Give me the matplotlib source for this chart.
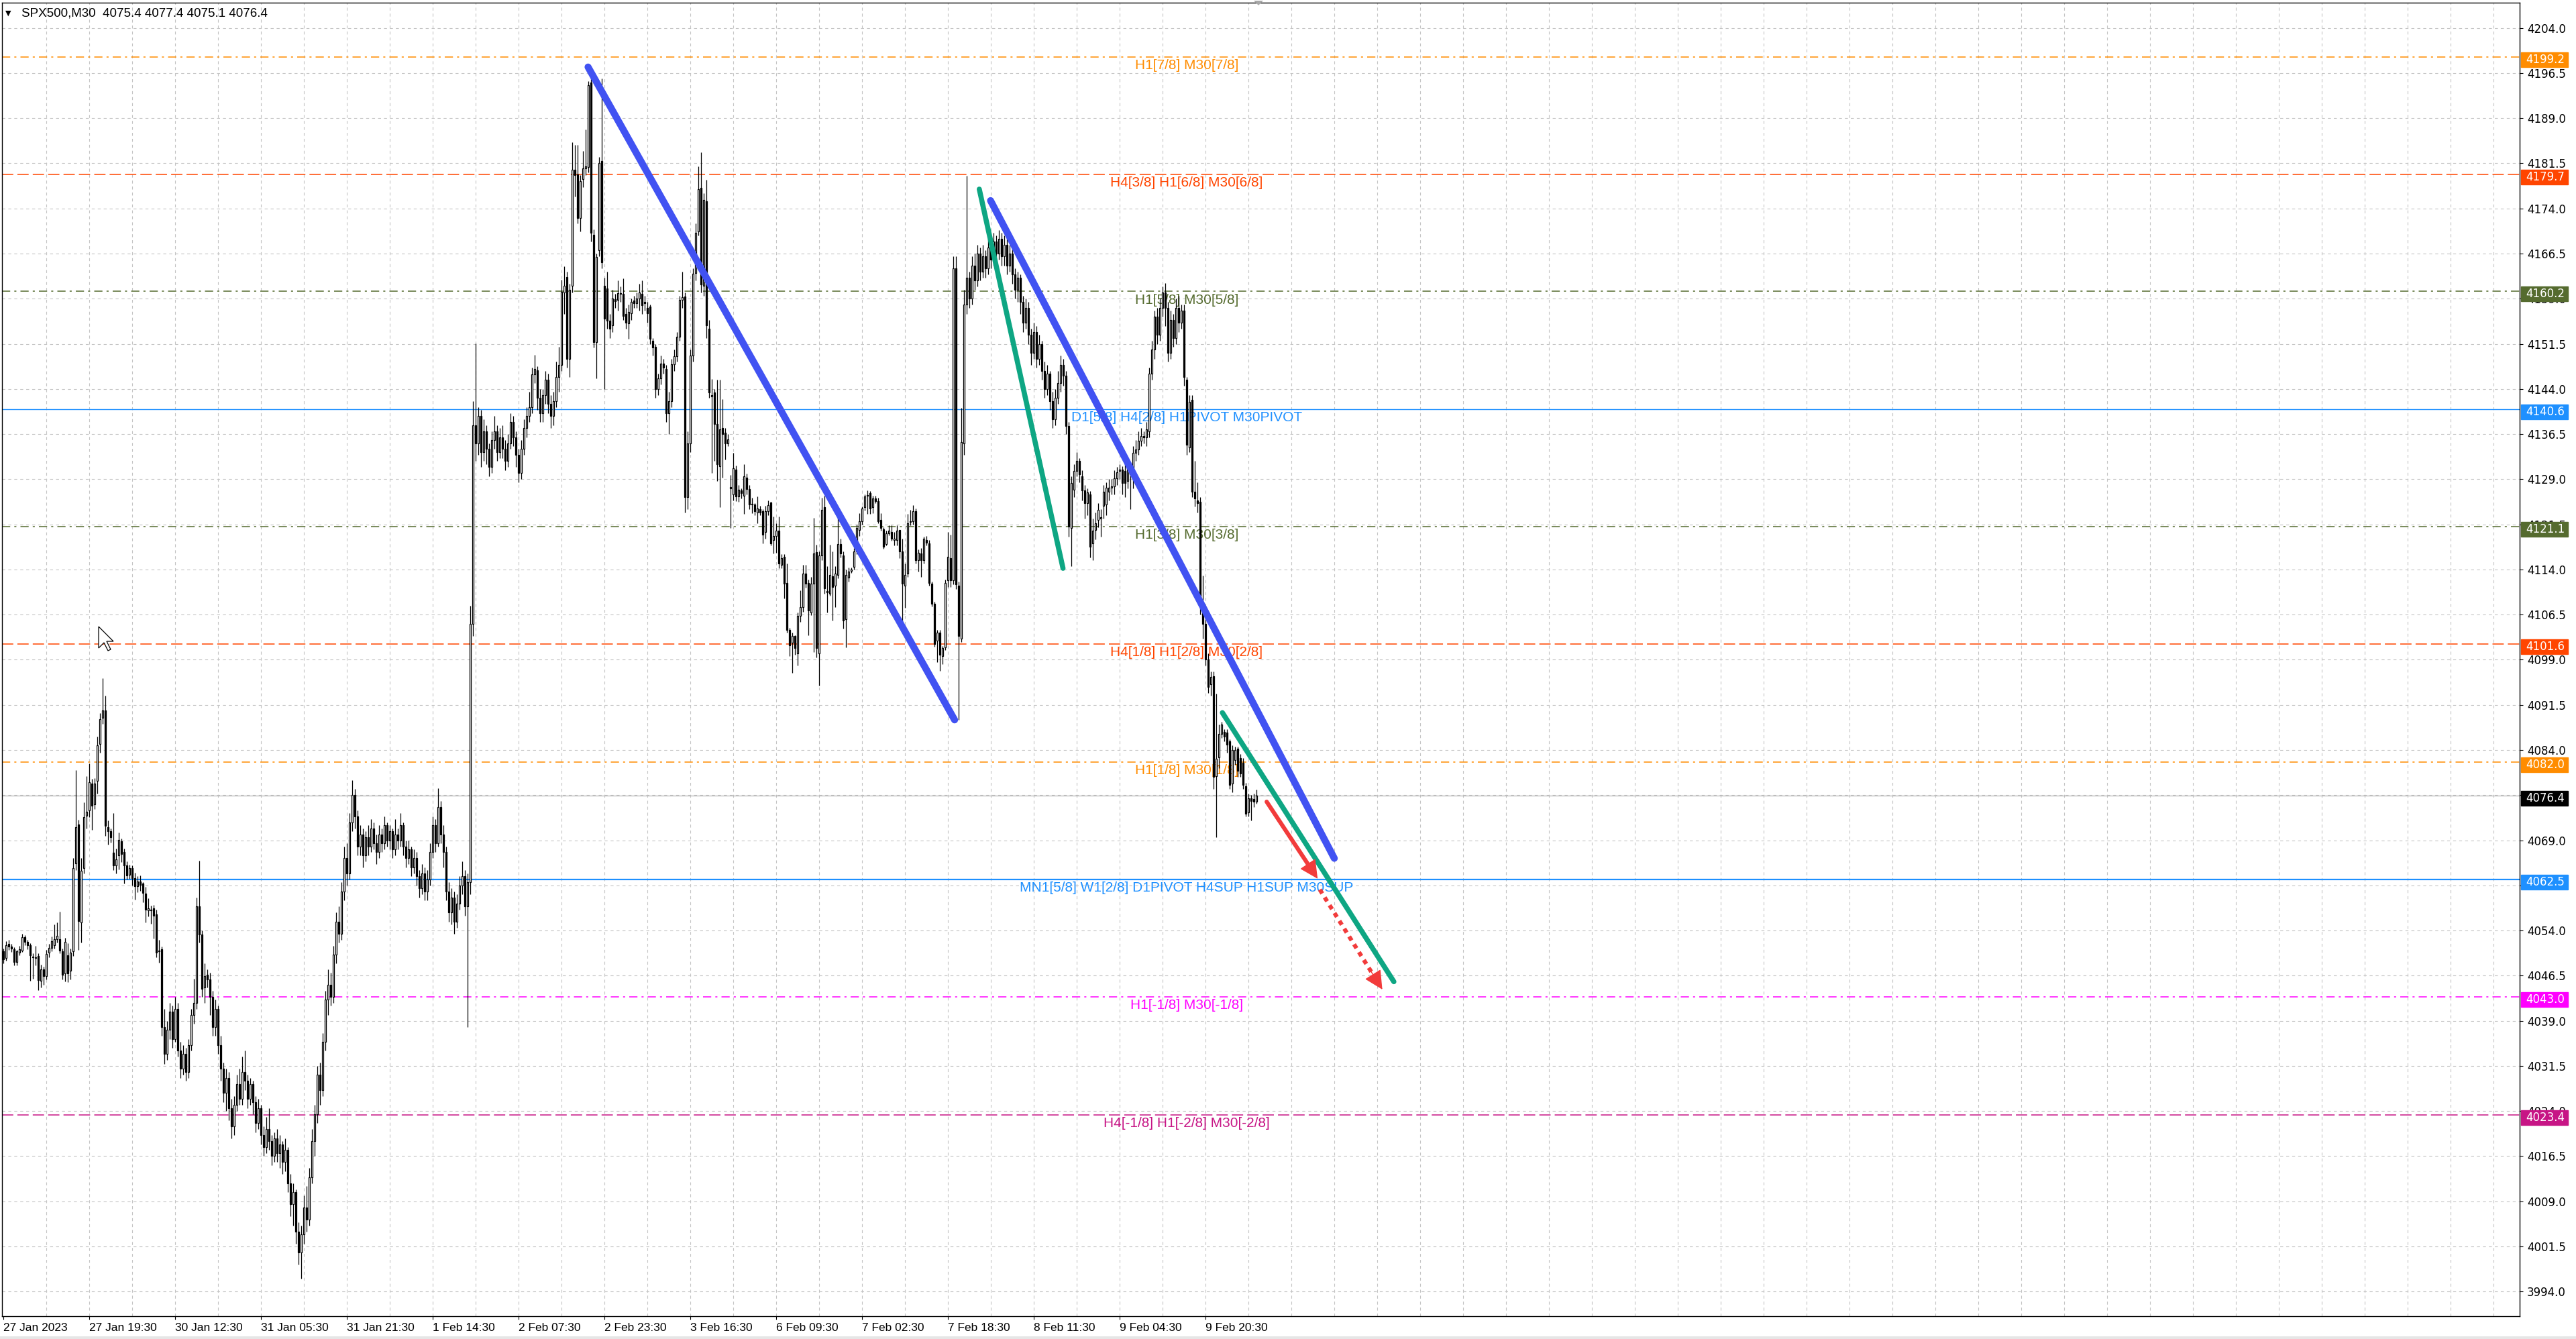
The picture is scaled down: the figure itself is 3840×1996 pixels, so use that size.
import numpy as np
import matplotlib.pyplot as plt
from matplotlib.patches import Rectangle, Polygon
from matplotlib.transforms import IdentityTransform

plt.rcParams['font.family'] = ['Liberation Sans', 'DejaVu Sans']

# SPX500 M30 bars, 27 Jan 2023 .. 9 Feb 2023
opens = [
    4050.5, 4049.4, 4051.8, 4051.3, 4050.9, 4048.8, 4050.3, 4050.7, 4052.9, 4052.1,
    4051.6, 4049.7, 4049.5, 4049.8, 4045.6, 4047.5, 4046.4, 4050.3, 4051.1, 4051.6,
    4052.6, 4052.6, 4050.5, 4046.9, 4049.9, 4047.3, 4050.5, 4065.2, 4071.6, 4055.4,
    4064.4, 4073.1, 4074.0, 4078.4, 4075.0, 4078.9, 4085.0, 4089.3, 4090.6, 4071.2,
    4070.5, 4066.9, 4064.8, 4066.5, 4068.8, 4067.1, 4064.8, 4063.3, 4064.4, 4062.7,
    4061.4, 4062.2, 4061.8, 4060.1, 4057.3, 4057.4, 4057.7, 4056.7, 4050.6, 4050.9,
    4038.0, 4033.5, 4037.5, 4040.5, 4036.0, 4041.0, 4034.0, 4031.0, 4033.5, 4030.5,
    4035.0, 4040.0, 4042.0, 4058.0, 4053.3, 4044.5, 4046.6, 4045.9, 4043.0, 4038.0,
    4041.0, 4035.0, 4031.0, 4027.0, 4029.5, 4024.5, 4021.5, 4025.0, 4028.5, 4026.0,
    4030.5, 4029.0, 4026.0, 4028.5, 4025.5, 4022.0, 4024.5, 4020.0, 4018.0, 4021.0,
    4019.0, 4016.5, 4019.5, 4017.0, 4018.5, 4015.5, 4017.5, 4012.0, 4008.5, 4010.5,
    4004.0, 4000.5, 4003.5, 4008.0, 4006.0, 4013.0, 4019.0, 4023.5, 4030.0, 4027.5,
    4035.5, 4042.5, 4045.0, 4043.0, 4050.0, 4055.5, 4053.5, 4060.5, 4066.0, 4063.5,
    4072.0, 4076.5, 4073.0, 4068.0, 4070.0, 4066.5, 4069.5, 4068.0, 4071.0, 4068.5,
    4067.0, 4070.0, 4068.5, 4071.5, 4069.0, 4070.5, 4067.5, 4070.0, 4069.0, 4071.5,
    4068.0, 4066.0, 4067.5, 4064.5, 4066.0, 4063.0, 4061.0, 4063.5, 4060.5, 4062.5,
    4067.0, 4071.5, 4068.5, 4074.5, 4070.0, 4067.0, 4060.5, 4057.0, 4059.5, 4055.5,
    4058.5, 4061.5, 4063.0, 4058.0, 4062.0, 4105.0, 4138.0, 4135.0, 4139.5, 4133.5,
    4137.0, 4134.0, 4131.0, 4135.5, 4137.0, 4133.5, 4136.0, 4134.0, 4132.0, 4135.0,
    4138.5, 4136.0, 4133.0, 4130.0, 4134.0, 4137.5, 4139.5, 4141.0, 4146.4, 4147.1,
    4142.5, 4140.0, 4143.0, 4145.5, 4141.5, 4139.5, 4142.0, 4146.0, 4148.0, 4160.0,
    4162.6, 4149.0, 4161.1, 4180.4, 4179.6, 4172.4, 4178.9, 4180.7, 4180.9, 4194.9,
    4169.6, 4151.8, 4167.0, 4181.9, 4161.1, 4160.7, 4155.3, 4154.6, 4158.9, 4158.8,
    4159.8, 4159.8, 4156.5, 4154.9, 4156.6, 4158.7, 4158.3, 4159.0, 4159.8, 4158.5,
    4157.5, 4157.7, 4152.0, 4151.0, 4144.0, 4145.8, 4148.2, 4147.3, 4140.0, 4142.0,
    4148.1, 4149.4, 4152.7, 4158.8, 4159.4, 4126.0, 4135.0, 4149.5, 4163.3, 4170.2,
    4177.4, 4161.1, 4175.2,
    4154.0, 4142.7, 4143.4, 4138.2, 4131.2, 4137.5, 4136.7, 4135.0, 4127.7, 4126.5,
    4130.6, 4126.1, 4127.1, 4126.3, 4129.3, 4127.4, 4124.8, 4124.8, 4123.5, 4124.0,
    4123.7, 4120.2, 4123.7, 4125.1, 4118.9, 4119.6, 4120.4, 4114.8, 4116.1, 4111.8,
    4104.0, 4101.8, 4102.9, 4100.1, 4106.3, 4107.7, 4113.3, 4111.8, 4106.8, 4111.6,
    4116.9, 4100.1, 4116.3, 4124.3, 4110.4, 4110.0, 4112.9, 4111.3, 4113.1, 4118.2,
    4116.3, 4105.7, 4112.6, 4113.8, 4114.4, 4117.0, 4120.6, 4122.0, 4124.3, 4126.3,
    4126.7, 4124.3, 4125.8, 4125.4, 4122.2, 4120.7, 4118.2, 4120.0, 4120.2, 4118.9,
    4118.9, 4120.6, 4117.0, 4111.3, 4113.3, 4121.9, 4122.0, 4123.7, 4115.5, 4116.7,
    4115.5, 4118.9, 4118.3, 4111.6, 4108.3, 4102.2, 4103.5, 4099.6, 4101.1, 4112.2,
    4115.9, 4112.2, 4164.0, 4111.3, 4102.5, 4134.9,
    4158.0, 4162.5,
    4159.0, 4164.5, 4162.0, 4166.5, 4163.5, 4166.0, 4164.0, 4167.5, 4165.5, 4168.5,
    4166.5, 4169.0, 4166.0, 4168.0, 4164.5, 4166.5, 4163.0, 4160.5, 4162.5, 4158.5,
    4155.0, 4157.5, 4153.0, 4150.0, 4153.5, 4149.0, 4151.5, 4147.0, 4144.0, 4146.5,
    4142.0, 4139.0, 4142.5, 4145.0, 4148.0, 4146.2, 4137.8, 4120.9, 4127.2, 4130.4,
    4132.0, 4129.5, 4127.1, 4125.0, 4126.5, 4118.3, 4120.6, 4122.2, 4122.5, 4124.6,
    4124.8, 4126.9, 4127.6, 4127.8, 4129.1, 4130.4, 4130.6, 4130.4, 4128.7, 4131.0,
    4129.8, 4133.4, 4133.9, 4135.4, 4136.2, 4136.0, 4136.9, 4146.5, 4150.5, 4156.0,
    4153.0, 4157.5, 4160.0, 4157.5, 4150.0, 4155.5, 4152.5, 4157.5, 4155.0, 4157.0,
    4145.5, 4134.3, 4142.2, 4126.9, 4125.5, 4125.2, 4108.0, 4105.0, 4099.0,
    4094.9, 4096.3,
    4079.6, 4082.8, 4086.7, 4087.0, 4086.9, 4085.4, 4078.4, 4082.3, 4084.2, 4082.7,
    4081.9, 4078.0, 4073.6, 4076.0, 4075.9, 4075.4,
]

closes = [
    4049.2, 4051.6, 4051.3, 4051.0, 4048.8, 4050.5, 4050.9, 4052.9, 4052.1, 4051.6,
    4049.9, 4049.5, 4049.4, 4045.8, 4047.5, 4046.4, 4050.1, 4051.1, 4052.2, 4052.6,
    4053.1, 4050.7, 4046.7, 4052.1, 4046.9, 4050.3, 4064.4, 4071.2, 4055.6, 4063.9,
    4072.9, 4073.7, 4078.6, 4074.8, 4078.4, 4084.8, 4089.1, 4090.6, 4071.4, 4070.5,
    4069.5, 4064.8, 4065.8, 4069.1, 4066.7, 4064.8, 4063.1, 4064.4, 4062.7, 4061.4,
    4062.2, 4061.6, 4060.3, 4057.5, 4057.7, 4057.3, 4056.5, 4050.3, 4050.5, 4038.0,
    4033.5, 4037.5, 4040.5, 4036.0, 4041.0, 4034.0, 4031.0, 4033.5, 4030.5, 4035.0,
    4040.0, 4042.0, 4058.0, 4053.3, 4044.3, 4046.4, 4045.9, 4043.0, 4038.0, 4041.0,
    4035.0, 4031.0, 4027.0, 4029.5, 4024.5, 4021.5, 4025.0, 4028.5, 4026.0, 4030.5,
    4029.0, 4026.0, 4028.5, 4025.5, 4022.0, 4024.5, 4020.0, 4018.0, 4021.0, 4019.0,
    4016.5, 4019.5, 4017.0, 4018.5, 4015.5, 4017.5, 4012.0, 4008.5, 4010.5, 4004.0,
    4000.5, 4003.5, 4008.0, 4006.0, 4013.0, 4019.0, 4023.5, 4030.0, 4027.5, 4035.5,
    4042.5, 4045.0, 4043.0, 4050.0, 4055.5, 4053.5, 4060.5, 4066.0, 4063.5, 4072.0,
    4076.5, 4073.0, 4068.0, 4070.0, 4066.5, 4069.5, 4068.0, 4071.0, 4068.5, 4067.0,
    4070.0, 4068.5, 4071.5, 4069.0, 4070.5, 4067.5, 4070.0, 4069.0, 4071.5, 4068.0,
    4066.0, 4067.5, 4064.5, 4066.0, 4063.0, 4061.0, 4063.5, 4060.5, 4062.5, 4067.0,
    4071.5, 4068.5, 4074.5, 4070.0, 4067.0, 4060.5, 4057.0, 4059.5, 4055.5, 4058.5,
    4061.5, 4063.0, 4058.0, 4062.0, 4105.0, 4138.0, 4135.0, 4139.5, 4133.5, 4137.0,
    4134.0, 4131.0, 4135.5, 4137.0, 4133.5, 4136.0, 4134.0, 4132.0, 4135.0, 4138.5,
    4136.0, 4133.0, 4130.0, 4134.0, 4137.5, 4139.5, 4141.0, 4146.4, 4147.3, 4142.5,
    4140.0, 4143.0, 4145.5, 4141.5, 4139.5, 4142.0, 4146.0, 4148.0, 4160.1, 4161.1,
    4149.0, 4160.5, 4180.4, 4179.5, 4172.4, 4178.5, 4180.6, 4181.0, 4194.5, 4170.0,
    4151.8, 4165.9, 4181.5, 4165.0, 4155.7, 4155.3, 4154.0, 4159.0, 4158.6, 4159.9,
    4159.9, 4156.1, 4155.0, 4156.8, 4158.5, 4158.3, 4159.0, 4160.0, 4157.9, 4158.3,
    4156.6, 4152.3, 4150.9, 4144.0, 4145.8, 4148.2, 4147.5, 4140.0, 4142.0, 4148.1,
    4149.4, 4152.7, 4158.8, 4159.2, 4126.0, 4135.0, 4149.5, 4163.1, 4170.0, 4177.2,
    4161.4, 4175.4, 4154.6,
    4143.4, 4143.0, 4138.2, 4131.5, 4137.3, 4136.5, 4134.9, 4135.6, 4127.5, 4130.8,
    4126.1, 4127.3, 4126.7, 4129.5, 4127.4, 4124.8, 4124.9, 4123.7, 4124.1, 4123.5,
    4119.8, 4123.7, 4124.7, 4118.3, 4119.6, 4120.4, 4115.0, 4115.9, 4111.6, 4104.0,
    4101.4, 4102.9, 4100.9, 4106.3, 4107.7, 4113.3, 4111.6, 4107.2, 4111.6, 4116.7,
    4100.9, 4116.3, 4123.9, 4110.9, 4110.2, 4113.1, 4111.1, 4113.3, 4118.2, 4116.7,
    4105.5, 4113.1, 4113.7, 4114.0, 4117.0, 4120.9, 4122.0, 4124.1, 4126.1, 4126.2,
    4124.1, 4125.8, 4125.4, 4122.0, 4120.9, 4117.8, 4120.0, 4120.4, 4119.1, 4119.1,
    4120.4, 4117.0, 4111.6, 4113.1, 4121.7, 4122.0, 4123.7, 4115.5, 4116.8, 4115.5,
    4119.1, 4118.5, 4111.8, 4108.3, 4101.6, 4103.5, 4099.8, 4100.9, 4111.8, 4116.1,
    4112.2, 4164.0, 4111.5, 4102.9, 4135.2, 4158.0,
    4162.5, 4159.0,
    4164.5, 4162.0, 4166.5, 4163.5, 4166.0, 4164.0, 4167.5, 4165.5, 4168.5, 4166.5,
    4169.0, 4166.0, 4168.0, 4164.5, 4166.5, 4163.0, 4160.5, 4162.5, 4158.5, 4155.0,
    4157.5, 4153.0, 4150.0, 4153.5, 4149.0, 4151.5, 4147.0, 4144.0, 4146.5, 4142.0,
    4139.0, 4142.5, 4145.0, 4148.0, 4146.2, 4137.8, 4121.1, 4128.4, 4130.4, 4132.0,
    4129.8, 4127.1, 4125.0, 4126.8, 4117.8, 4120.4, 4121.7, 4123.9, 4122.7, 4126.9,
    4127.6, 4127.6, 4127.8, 4129.1, 4130.2, 4130.6, 4128.4, 4128.4, 4131.0, 4129.8,
    4133.4, 4133.9, 4135.4, 4136.2, 4136.0, 4137.3, 4146.5, 4150.5, 4156.0, 4153.0,
    4157.5, 4160.0, 4157.5, 4150.0, 4155.5, 4152.5, 4157.5, 4155.0, 4157.0, 4146.0,
    4134.7, 4141.9, 4126.9, 4125.8, 4125.0, 4108.0, 4105.0, 4099.0, 4094.5,
    4096.2, 4079.5,
    4082.6, 4086.7, 4088.2, 4086.2, 4084.9, 4078.2, 4084.0, 4084.0, 4080.5, 4080.1,
    4078.2, 4073.4, 4076.0, 4075.5, 4075.4, 4076.4,
]

highs = [
    4051.0, 4052.2, 4052.4, 4051.8, 4051.2, 4050.8, 4051.5, 4053.4, 4053.2, 4052.4,
    4051.9, 4050.2, 4051.5, 4050.2, 4048.3, 4048.0, 4050.8, 4051.8, 4053.0, 4055.0,
    4055.3, 4057.1, 4051.0, 4052.8, 4051.9, 4051.0, 4066.0, 4080.6, 4072.4, 4066.0,
    4075.3, 4079.6, 4081.8, 4079.2, 4079.3, 4086.2, 4090.1, 4095.9, 4093.0, 4072.3,
    4071.0, 4073.5, 4067.6, 4070.3, 4069.3, 4067.6, 4065.5, 4064.9, 4064.8, 4063.6,
    4063.0, 4063.1, 4062.0, 4061.2, 4059.4, 4058.1, 4058.3, 4057.5, 4052.4, 4051.3,
    4041.0, 4039.0, 4042.0, 4041.5, 4043.0, 4042.0, 4035.5, 4035.0, 4034.5, 4036.0,
    4041.0, 4046.0, 4059.5, 4065.6, 4054.0, 4048.5, 4047.5, 4047.0, 4044.0, 4042.5,
    4041.5, 4036.5, 4032.0, 4031.0, 4030.5, 4026.0, 4026.5, 4030.0, 4031.0, 4033.0,
    4034.0, 4030.0, 4029.5, 4029.0, 4026.5, 4026.0, 4025.0, 4021.5, 4023.0, 4024.5,
    4020.0, 4020.5, 4021.0, 4020.0, 4019.0, 4019.5, 4018.0, 4013.5, 4012.0, 4011.0,
    4005.5, 4005.0, 4010.0, 4011.5, 4014.5, 4021.0, 4025.0, 4031.5, 4032.0, 4037.0,
    4044.0, 4047.5, 4047.0, 4051.5, 4057.0, 4058.0, 4062.0, 4068.0, 4068.5, 4073.5,
    4079.0, 4077.5, 4074.0, 4071.5, 4071.0, 4070.5, 4071.5, 4072.5, 4072.0, 4070.0,
    4071.5, 4071.0, 4073.0, 4072.0, 4071.5, 4071.0, 4072.5, 4071.0, 4073.5, 4072.0,
    4069.0, 4069.0, 4068.0, 4067.5, 4067.0, 4064.0, 4065.0, 4064.5, 4064.0, 4068.5,
    4073.0, 4072.5, 4077.6, 4075.5, 4071.5, 4068.0, 4062.0, 4061.0, 4060.5, 4060.0,
    4063.0, 4065.5, 4064.0, 4063.5, 4108.0, 4142.0, 4151.6, 4141.0, 4140.5, 4139.0,
    4138.0, 4135.0, 4137.0, 4139.5, 4138.0, 4137.5, 4138.0, 4135.5, 4136.5, 4140.0,
    4139.5, 4137.0, 4134.0, 4135.5, 4139.0, 4141.0, 4143.5, 4147.5, 4149.7, 4147.8,
    4144.0, 4144.0, 4147.0, 4146.5, 4143.0, 4143.5, 4148.5, 4151.0, 4162.2, 4164.4,
    4163.5, 4161.5, 4185.0, 4184.5, 4184.5, 4179.5, 4183.5, 4187.1, 4195.2, 4196.2,
    4170.5, 4166.5, 4182.5, 4195.6, 4162.5, 4163.5, 4156.5, 4160.5, 4159.8, 4162.0,
    4161.0, 4162.4, 4157.5, 4158.0, 4159.0, 4159.5, 4160.0, 4161.5, 4162.0, 4159.5,
    4158.5, 4158.0, 4152.5, 4151.5, 4146.5, 4149.5, 4149.0, 4148.0, 4143.5, 4149.0,
    4150.5, 4153.5, 4159.5, 4163.5, 4160.0, 4137.0, 4150.5, 4164.0, 4171.5, 4181.0,
    4183.3, 4176.5, 4178.8,
    4155.5, 4145.7, 4144.0, 4145.5, 4145.5, 4142.3, 4137.5, 4136.5, 4129.7, 4133.4,
    4131.3, 4128.0, 4127.5, 4131.5, 4129.9, 4128.0, 4125.9, 4125.0, 4126.1, 4124.6,
    4124.0, 4124.6, 4125.5, 4125.3, 4122.8, 4121.7, 4122.8, 4116.5, 4116.5, 4115.0,
    4104.3, 4103.5, 4103.1, 4106.8, 4110.5, 4114.8, 4114.8, 4112.3, 4112.8, 4122.6,
    4118.1, 4117.0, 4125.9, 4126.3, 4114.6, 4118.1, 4117.0, 4114.6, 4124.3, 4119.1,
    4117.0, 4114.0, 4114.3, 4114.3, 4117.5, 4121.5, 4123.4, 4124.5, 4126.5, 4127.1,
    4127.0, 4126.2, 4126.2, 4125.9, 4123.3, 4121.0, 4120.4, 4121.3, 4121.3, 4120.2,
    4121.3, 4120.6, 4119.1, 4115.0, 4123.2, 4123.9, 4124.7, 4124.1, 4117.3, 4117.6,
    4119.5, 4119.6, 4118.9, 4112.0, 4108.6, 4104.0, 4104.0, 4101.3, 4112.3, 4120.2,
    4119.8, 4166.0, 4166.0, 4112.0, 4140.8, 4160.5,
    4179.4, 4163.5,
    4166.0, 4166.5, 4168.0, 4167.5, 4168.0, 4167.0, 4169.0, 4168.5, 4170.0, 4169.5,
    4170.4, 4170.0, 4169.5, 4169.0, 4168.0, 4167.5, 4164.0, 4163.5, 4163.0, 4159.5,
    4159.0, 4158.5, 4154.0, 4155.0, 4154.5, 4153.0, 4152.0, 4148.5, 4148.0, 4147.0,
    4143.5, 4144.0, 4147.0, 4149.5, 4149.0, 4147.0, 4138.5, 4129.5, 4131.5, 4133.5,
    4132.5, 4130.5, 4128.0, 4127.5, 4127.0, 4122.5, 4123.5, 4125.0, 4124.0, 4128.0,
    4128.5, 4129.0, 4129.0, 4130.5, 4131.0, 4131.5, 4131.2, 4132.0, 4132.0, 4131.5,
    4134.5, 4135.5, 4137.0, 4137.5, 4137.0, 4138.5, 4147.5, 4152.0, 4157.0, 4157.5,
    4159.0, 4161.0, 4161.6, 4158.5, 4157.0, 4156.5, 4159.0, 4159.5, 4158.0, 4158.0,
    4146.0, 4143.0, 4143.0, 4132.0, 4128.5, 4126.0, 4113.0, 4106.0, 4100.0,
    4097.0, 4097.0,
    4093.4, 4088.2, 4088.7, 4087.5, 4087.5, 4085.8, 4084.8, 4084.6, 4084.5, 4083.3,
    4082.7, 4078.5, 4076.8, 4076.5, 4076.7, 4077.4,
]

lows = [
    4048.5, 4049.0, 4050.8, 4050.4, 4048.2, 4048.2, 4049.9, 4050.4, 4051.6, 4050.9,
    4045.6, 4046.0, 4048.2, 4044.1, 4044.5, 4045.0, 4045.9, 4049.5, 4050.6, 4051.0,
    4052.0, 4050.2, 4045.9, 4045.5, 4045.4, 4045.9, 4049.8, 4064.0, 4050.8, 4052.0,
    4063.5, 4071.0, 4072.9, 4070.7, 4074.2, 4076.7, 4083.5, 4088.4, 4069.7, 4068.3,
    4068.6, 4064.0, 4063.5, 4064.1, 4065.4, 4061.8, 4062.5, 4062.6, 4061.5, 4059.1,
    4060.4, 4060.6, 4058.7, 4055.4, 4056.3, 4055.1, 4052.7, 4049.6, 4048.7, 4036.5,
    4031.8, 4032.5, 4036.0, 4034.5, 4035.5, 4033.0, 4029.5, 4030.0, 4029.0, 4029.5,
    4034.0, 4038.5, 4041.0, 4052.0, 4043.0, 4042.0, 4044.5, 4040.0, 4036.5, 4036.5,
    4033.5, 4029.0, 4025.5, 4024.0, 4022.5, 4019.5, 4020.0, 4024.0, 4025.0, 4025.0,
    4027.5, 4024.5, 4025.0, 4023.5, 4020.5, 4021.0, 4018.5, 4016.5, 4017.0, 4017.5,
    4015.0, 4015.5, 4015.5, 4014.5, 4013.5, 4014.0, 4010.5, 4006.5, 4005.0, 4002.0,
    3998.5, 3996.2, 4002.0, 4004.0, 4005.0, 4012.0, 4016.5, 4022.0, 4025.0, 4026.5,
    4034.0, 4040.0, 4041.5, 4042.0, 4048.5, 4052.0, 4052.5, 4059.0, 4061.5, 4062.5,
    4070.5, 4071.0, 4066.5, 4066.5, 4064.5, 4065.5, 4066.5, 4067.0, 4067.5, 4065.0,
    4066.0, 4067.0, 4067.5, 4068.0, 4067.5, 4066.0, 4066.5, 4067.5, 4068.0, 4066.5,
    4064.5, 4065.0, 4063.0, 4063.5, 4061.5, 4059.5, 4060.0, 4059.0, 4059.0, 4061.5,
    4066.0, 4067.0, 4068.0, 4068.5, 4064.5, 4059.0, 4055.5, 4055.0, 4053.5, 4054.5,
    4057.5, 4060.0, 4056.5, 4038.0, 4060.0, 4103.0, 4132.0, 4133.0, 4131.0, 4132.0,
    4131.5, 4129.5, 4130.0, 4134.0, 4132.0, 4132.5, 4132.5, 4130.5, 4131.0, 4134.0,
    4134.5, 4131.0, 4128.5, 4129.0, 4133.0, 4136.0, 4138.5, 4140.0, 4145.0, 4140.5,
    4138.5, 4138.5, 4141.5, 4140.0, 4137.5, 4138.0, 4141.0, 4143.5, 4147.0, 4156.5,
    4147.5, 4146.0, 4160.0, 4176.0, 4171.5, 4170.2, 4177.5, 4179.5, 4180.0, 4168.5,
    4150.9, 4145.8, 4166.0, 4164.0, 4144.0, 4154.0, 4152.5, 4153.5, 4157.5, 4157.0,
    4158.5, 4155.5, 4154.0, 4152.3, 4155.5, 4157.5, 4157.5, 4157.0, 4156.5, 4157.0,
    4155.0, 4151.5, 4149.5, 4142.5, 4143.0, 4144.8, 4146.5, 4138.5, 4136.5, 4141.0,
    4147.0, 4148.5, 4152.0, 4157.5, 4123.5, 4124.0, 4133.5, 4148.5, 4162.0, 4169.5,
    4160.0, 4159.5, 4152.5,
    4142.5, 4130.0, 4132.1, 4128.7, 4124.3, 4129.3, 4132.3, 4134.5, 4120.9, 4125.5,
    4125.4, 4125.3, 4125.8, 4123.2, 4126.5, 4124.0, 4123.3, 4123.0, 4121.7, 4123.0,
    4118.3, 4119.1, 4123.0, 4118.0, 4116.7, 4116.8, 4114.2, 4114.2, 4109.2, 4103.5,
    4099.6, 4096.8, 4099.8, 4098.1, 4105.3, 4107.0, 4111.0, 4103.1, 4106.4, 4100.3,
    4099.4, 4094.7, 4115.5, 4110.0, 4106.8, 4109.6, 4105.5, 4107.7, 4112.5, 4116.0,
    4104.2, 4101.1, 4112.0, 4113.4, 4114.0, 4116.5, 4119.6, 4121.5, 4123.8, 4123.2,
    4123.2, 4123.3, 4125.0, 4121.7, 4120.5, 4117.4, 4118.0, 4119.7, 4118.8, 4118.0,
    4118.0, 4115.9, 4105.0, 4107.6, 4112.8, 4121.3, 4121.5, 4115.0, 4113.7, 4112.8,
    4115.0, 4118.0, 4111.3, 4107.8, 4101.2, 4098.6, 4097.2, 4098.3, 4100.6, 4111.1,
    4111.1, 4111.5, 4110.8, 4089.0, 4102.0, 4133.0,
    4156.5, 4157.5,
    4158.0, 4160.5, 4161.0, 4162.0, 4162.5, 4162.5, 4163.0, 4164.0, 4164.5, 4165.0,
    4165.5, 4164.5, 4164.5, 4163.0, 4163.5, 4161.5, 4159.0, 4158.5, 4156.5, 4153.5,
    4154.0, 4151.5, 4148.0, 4149.0, 4147.5, 4148.0, 4145.5, 4142.5, 4143.0, 4140.5,
    4137.5, 4138.0, 4141.5, 4143.5, 4144.5, 4136.5, 4119.5, 4114.5, 4126.0, 4129.5,
    4128.5, 4125.5, 4122.5, 4123.0, 4116.0, 4115.5, 4119.0, 4121.0, 4119.5, 4122.5,
    4123.0, 4125.5, 4126.5, 4126.5, 4128.0, 4129.0, 4126.5, 4126.0, 4127.5, 4124.0,
    4127.5, 4132.0, 4133.0, 4134.5, 4135.0, 4134.5, 4136.0, 4145.5, 4149.0, 4151.5,
    4152.0, 4156.0, 4154.5, 4148.5, 4149.0, 4151.0, 4151.5, 4153.5, 4154.0, 4144.5,
    4133.0, 4133.5, 4126.0, 4124.5, 4123.5, 4106.5, 4102.5, 4098.0, 4093.5,
    4093.0, 4077.5,
    4069.5, 4081.0, 4086.0, 4085.5, 4083.5, 4077.5, 4077.0, 4081.5, 4079.5, 4079.5,
    4077.5, 4073.0, 4073.0, 4072.3, 4074.5, 4075.1,
]

time_labels = ["27 Jan 2023", "27 Jan 19:30", "30 Jan 12:30", "31 Jan 05:30", "31 Jan 21:30",
               "1 Feb 14:30", "2 Feb 07:30", "2 Feb 23:30", "3 Feb 16:30", "6 Feb 09:30",
               "7 Feb 02:30", "7 Feb 18:30", "8 Feb 11:30", "9 Feb 04:30", "9 Feb 20:30"]

level_prices = [4199.2, 4179.7, 4160.2, 4140.6, 4121.1, 4101.6, 4082.0, 4062.5, 4043.0, 4023.4]
level_names = ["H1[7/8] M30[7/8]", "H4[3/8] H1[6/8] M30[6/8]", "H1[5/8] M30[5/8]",
               "D1[5/8] H4[2/8] H1PIVOT M30PIVOT", "H1[3/8] M30[3/8]",
               "H4[1/8] H1[2/8] M30[2/8]", "H1[1/8] M30[1/8]",
               "MN1[5/8] W1[2/8] D1PIVOT H4SUP H1SUP M30SUP",
               "H1[-1/8] M30[-1/8]", "H4[-1/8] H1[-2/8] M30[-2/8]"]
level_colors = ['#FF8C00', '#FF4500', '#556B2F', '#1E90FF', '#556B2F',
                '#FF4500', '#FF8C00', '#1E90FF', '#FF00FF', '#C71585']
last_price = 4076.4

# trend lines (bar index, price)
blue_lines = [((217.9, 4197.5), (354.5, 4089.0)), ((367.9, 4175.3), (496.0, 4066.0))]
green_lines = [((363.7, 4177.2), (394.9, 4114.2)), ((454.3, 4090.2), (518.2, 4045.5))]
arrow_solid = ((470.8, 4075.4), (489.8, 4062.6))
arrow_dotted = ((490.6, 4060.8), (513.9, 4044.2))

#%% figure
W, H = 3840, 1996
fig = plt.figure(figsize=(W / 100, H / 100), dpi=100)
fig.patch.set_facecolor('white')
ax = fig.add_axes([3 / W, (H - 1961.7) / H, 3753 / W, 1957.7 / H])
ax.set_xlim(-0.5, 937.75)
ax.set_ylim(3989.94, 4208.19)

grid_kw = dict(color='#C4C4C4', lw=0.8, ls=(0, (4, 4)), zorder=1)
yticks = np.arange(3994.0, 4204.01, 7.5)
for yv in yticks:
    ax.axhline(yv, **grid_kw)
for xv in range(16, 938, 16):
    ax.axvline(xv, **grid_kw)

# levels
dashdot = (0, (8, 4, 2, 4))
dashed = (0, (11, 4))
level_styles = [dashdot, dashed, dashdot, '-', dashdot, dashed, dashdot, '-', dashdot, dashed]
level_widths = [1.1, 1.1, 1.1, 1.0, 1.1, 1.1, 1.1, 1.6, 1.1, 1.1]
for p, name, col, ls, lw in zip(level_prices, level_names, level_colors, level_styles, level_widths):
    ax.axhline(p, color=col, lw=lw, ls=ls, zorder=2)
    ax.text(441, p - 0.35, name, color=col, fontsize=15, ha='center', va='top', zorder=2.5)
ax.axhline(last_price, color='#B4B4B4', lw=0.9, zorder=2)

# candles
o, hi, lo, c = (np.array(v, dtype=float) for v in (opens, highs, lows, closes))
hi = np.maximum(hi, np.maximum(o, c))
lo = np.minimum(lo, np.minimum(o, c))
x = np.arange(len(c))
up = c >= o
ax.vlines(x, lo, hi, color='black', lw=0.9, zorder=3)
body_lo = np.minimum(o, c)
body_h = np.maximum(np.abs(c - o), 0.12)
ax.bar(x[up], body_h[up], bottom=body_lo[up], width=0.55, color='white',
       edgecolor='black', linewidth=0.9, zorder=4)
ax.bar(x[~up], body_h[~up], bottom=body_lo[~up], width=0.55, color='black',
       edgecolor='black', linewidth=0.9, zorder=4)

# trend lines
for (x0, y0), (x1, y1) in blue_lines:
    ax.plot([x0, x1], [y0, y1], color='#4152F2', lw=7.5, solid_capstyle='round', zorder=6)
for (x0, y0), (x1, y1) in green_lines:
    ax.plot([x0, x1], [y0, y1], color='#0EA683', lw=5.5, solid_capstyle='round', zorder=6)

red = '#F23B3B'
head = dict(arrowstyle='-|>,head_length=1.1,head_width=0.55', color=red,
            lw=1, shrinkA=0, shrinkB=0, mutation_scale=16)
(sx0, sy0), (sx1, sy1) = arrow_solid
ax.plot([sx0, sx0 + 0.85 * (sx1 - sx0)], [sy0, sy0 + 0.85 * (sy1 - sy0)],
        color=red, lw=4.5, solid_capstyle='round', zorder=7)
ax.annotate('', xy=(sx1, sy1), xytext=(sx0 + 0.8 * (sx1 - sx0), sy0 + 0.8 * (sy1 - sy0)),
            arrowprops=head, zorder=7)
(dx0, dy0), (dx1, dy1) = arrow_dotted
ax.plot([dx0, dx0 + 0.86 * (dx1 - dx0)], [dy0, dy0 + 0.86 * (dy1 - dy0)],
        color=red, lw=4.5, ls=(0, (1.1, 1.1)), dash_capstyle='butt', zorder=7)
ax.annotate('', xy=(dx1, dy1), xytext=(dx0 + 0.82 * (dx1 - dx0), dy0 + 0.82 * (dy1 - dy0)),
            arrowprops=head, zorder=7)

# axes styling
for sp in ax.spines.values():
    sp.set_color('black')
    sp.set_linewidth(1.0)
ax.yaxis.tick_right()
ax.set_yticks(yticks)
ax.set_yticklabels([f'{v:.1f}' for v in yticks])
ax.tick_params(axis='y', direction='out', length=3.6, width=0.8, pad=4.3, labelsize=12)
for lab in ax.get_yticklabels():
    lab.set_family('DejaVu Sans')
ax.set_xticks(np.arange(0, 32 * len(time_labels), 32))
ax.set_xticklabels(time_labels, ha='left')
ax.tick_params(axis='x', direction='out', length=3.6, width=0.8, pad=4, labelsize=12.5)

# price tags on the right scale (sit ~4 px below their line)
ytr = ax.get_yaxis_transform()
box_x = (3758 - 3) / 3753
box_w = 70 / 3753
box_h = 22 / 8.97
drop = 4 / 8.97
tags = list(zip(level_prices, level_colors)) + [(last_price, 'black')]
for p, col in tags:
    yc = p - drop
    ax.add_patch(Rectangle((box_x, yc - box_h / 2), box_w, box_h, transform=ytr,
                           color=col, clip_on=False, zorder=10))
    ax.text((3765 - 3) / 3753, yc, f'{p:.1f}', transform=ytr, color='white', fontsize=12,
            family='DejaVu Sans', ha='left', va='center', clip_on=False, zorder=11)

# header
fig.text(8 / W, 1 - 20 / H, '\u25bc', fontsize=8, va='center', family='DejaVu Sans')
fig.text(32 / W, 1 - 20 / H, 'SPX500,M30  4075.4 4077.4 4075.1 4076.4', fontsize=13.5,
         va='center')

# mouse pointer and chart-shift marker (screenshot artefacts)
tip_x, tip_y, s = 147, 934, 2.0
pointer = [(0, 0), (0, 16), (4, 12), (7, 18), (9, 17), (6, 11), (11, 11)]
fig.patches.append(Polygon([(tip_x + a * s, H - (tip_y + b * s)) for a, b in pointer],
                           closed=True, facecolor='white', edgecolor='black', lw=0.9,
                           transform=IdentityTransform(), zorder=20))
fig.patches.append(Polygon([(1869, H - 1), (1883, H - 1), (1876, H - 8)], closed=True,
                           facecolor='#A8A8A8', edgecolor='none',
                           transform=IdentityTransform(), zorder=20))
fig.patches.append(Rectangle((0, 0), W, 4, facecolor='#E6E6E6', edgecolor='none',
                             transform=IdentityTransform(), zorder=0))

fig.savefig('out.png', dpi=100, facecolor='white')
